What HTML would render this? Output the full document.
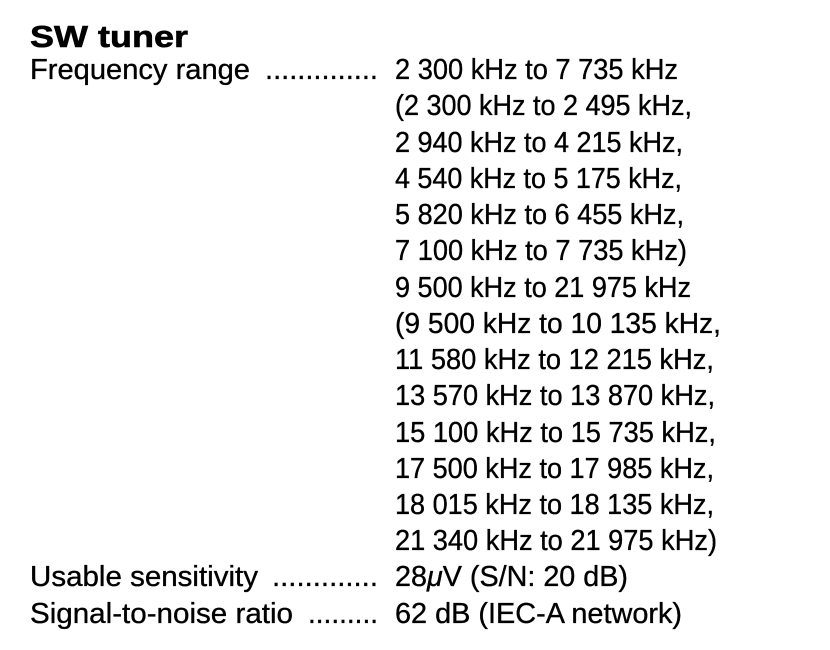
<!DOCTYPE html>
<html><head><meta charset="utf-8"><style>
html,body{margin:0;padding:0;background:#fff;}
svg{display:block;}
text{font-family:"Liberation Sans",sans-serif;fill:#000;}
</style></head><body>
<svg width="830" height="650" viewBox="0 0 830 650">
<text x="30" y="47" font-size="31" font-weight="bold" textLength="158" lengthAdjust="spacingAndGlyphs" stroke="#000" stroke-width="0.6">SW tuner</text>
<g font-size="29" stroke="#000" stroke-width="0.35">
<text x="30" y="79" textLength="220" lengthAdjust="spacingAndGlyphs">Frequency range</text>
<text x="265" y="79" textLength="113" lengthAdjust="spacingAndGlyphs">..............</text>
<text x="30" y="586" textLength="228" lengthAdjust="spacingAndGlyphs">Usable sensitivity</text>
<text x="272" y="586" textLength="106" lengthAdjust="spacingAndGlyphs">.............</text>
<text x="30" y="623" textLength="263" lengthAdjust="spacingAndGlyphs">Signal-to-noise ratio</text>
<text x="308" y="623" textLength="70" lengthAdjust="spacingAndGlyphs">.........</text>

<text x="395" y="79" textLength="283" lengthAdjust="spacingAndGlyphs">2 300 kHz to 7 735 kHz</text>
<text x="395" y="115" textLength="297" lengthAdjust="spacingAndGlyphs">(2 300 kHz to 2 495 kHz,</text>
<text x="395" y="152" textLength="288" lengthAdjust="spacingAndGlyphs">2 940 kHz to 4 215 kHz,</text>
<text x="395" y="188" textLength="287" lengthAdjust="spacingAndGlyphs">4 540 kHz to 5 175 kHz,</text>
<text x="395" y="224" textLength="289" lengthAdjust="spacingAndGlyphs">5 820 kHz to 6 455 kHz,</text>
<text x="395" y="260" textLength="292" lengthAdjust="spacingAndGlyphs">7 100 kHz to 7 735 kHz)</text>
<text x="395" y="297" textLength="296" lengthAdjust="spacingAndGlyphs">9 500 kHz to 21 975 kHz</text>
<text x="395" y="333" textLength="326" lengthAdjust="spacingAndGlyphs">(9 500 kHz to 10 135 kHz,</text>
<text x="395" y="369" textLength="319" lengthAdjust="spacingAndGlyphs">11 580 kHz to 12 215 kHz,</text>
<text x="395" y="405" textLength="320" lengthAdjust="spacingAndGlyphs">13 570 kHz to 13 870 kHz,</text>
<text x="395" y="442" textLength="321" lengthAdjust="spacingAndGlyphs">15 100 kHz to 15 735 kHz,</text>
<text x="395" y="478" textLength="319" lengthAdjust="spacingAndGlyphs">17 500 kHz to 17 985 kHz,</text>
<text x="395" y="514" textLength="319" lengthAdjust="spacingAndGlyphs">18 015 kHz to 18 135 kHz,</text>
<text x="395" y="550" textLength="322" lengthAdjust="spacingAndGlyphs">21 340 kHz to 21 975 kHz)</text>
<text x="395" y="586" textLength="233" lengthAdjust="spacingAndGlyphs">28<tspan font-style="italic">μ</tspan>V (S/N: 20 dB)</text>
<text x="395" y="623" textLength="287" lengthAdjust="spacingAndGlyphs">62 dB (IEC-A network)</text>
</g>
</svg>
</body></html>
